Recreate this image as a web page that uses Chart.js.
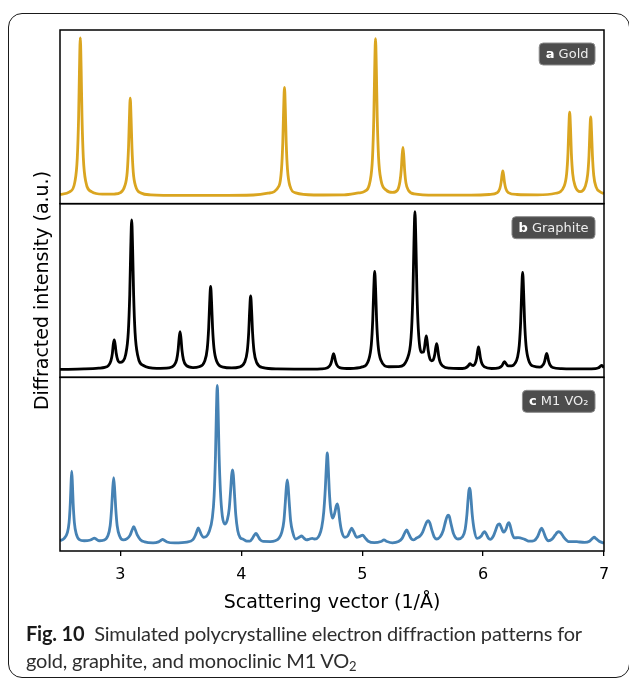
<!DOCTYPE html>
<html lang="en">

<head>
    <meta charset="UTF-8">
    <title>Electron diffraction patterns</title>
    <script src="https://cdn.jsdelivr.net/npm/chart.js"></script>
    <style>
        body {
            margin: 0;
            background: #fff;
            width: 629px;
            height: 678px;
            overflow: hidden;
            position: relative;
        }

        .frame {
            position: absolute;
            left: 8px;
            top: 13px;
            width: 620px;
            height: 663px;
            border: 1.4px solid #1a1a1a;
            border-radius: 14px;
        }

        .chart-box {
            position: absolute;
            left: 0;
            top: 0;
            width: 629px;
            height: 678px;
        }

        .caption {
            position: absolute;
            left: 26px;
            top: 620px;
            font-family: Lato, "Open Sans", sans-serif;
            font-size: 20px;
            line-height: 27px;
            letter-spacing: -0.2px;
            color: #2e2e2e;
            white-space: nowrap;
        }

        .caption b {
            color: #1a1a1a;
        }

        .caption sub {
            font-size: 13px;
            vertical-align: -3px;
        }
    </style>
</head>

<body>
    <div class="frame"></div>
    <div class="chart-box">
        <canvas id="patternChart"></canvas>
    </div>
    <div class="caption"><b>Fig. 10</b>&nbsp; Simulated polycrystalline electron diffraction patterns for<br>gold, graphite, and monoclinic M1 VO<sub>2</sub></div>

    <script>
        // scattering vector (1/Å), intensity (a.u., normalised)
        const gold = [
            [2.5, 0.009], [2.58, 0.025], [2.623, 0.088], [2.643, 0.24], [2.654, 0.5], [2.661, 0.8], [2.668, 1.0],
            [2.675, 0.8], [2.682, 0.5], [2.693, 0.24], [2.713, 0.09], [2.76, 0.026], [2.85, 0.01], [2.95, 0.011],
            [3.0, 0.02], [3.036, 0.062], [3.056, 0.15], [3.067, 0.31], [3.074, 0.49], [3.081, 0.618], [3.088, 0.49],
            [3.095, 0.31], [3.106, 0.15], [3.126, 0.06], [3.17, 0.018], [3.25, 0.006], [3.5, 0.002], [3.8, 0.002],
            [4.1, 0.005], [4.22, 0.016], [4.312, 0.062], [4.332, 0.165], [4.343, 0.34], [4.35, 0.55], [4.357, 0.686],
            [4.364, 0.55], [4.371, 0.34], [4.382, 0.165], [4.402, 0.062], [4.45, 0.018], [4.6, 0.005], [4.85, 0.006],
            [4.97, 0.018], [5.02, 0.028], [5.065, 0.092], [5.085, 0.24], [5.096, 0.5], [5.103, 0.8], [5.11, 0.996],
            [5.117, 0.8], [5.124, 0.5], [5.135, 0.245], [5.155, 0.1], [5.2, 0.035], [5.25, 0.021], [5.292, 0.036],
            [5.312, 0.09], [5.323, 0.165], [5.33, 0.255], [5.337, 0.306], [5.344, 0.25], [5.351, 0.16], [5.362, 0.08],
            [5.382, 0.035], [5.43, 0.012], [5.6, 0.004], [5.9, 0.004], [6.05, 0.008], [6.118, 0.02], [6.138, 0.045],
            [6.149, 0.085], [6.156, 0.128], [6.163, 0.157], [6.17, 0.128], [6.177, 0.085], [6.188, 0.045], [6.208, 0.02],
            [6.28, 0.008], [6.45, 0.006], [6.6, 0.016], [6.671, 0.062], [6.691, 0.14], [6.702, 0.27], [6.709, 0.43],
            [6.716, 0.529], [6.723, 0.43], [6.73, 0.27], [6.741, 0.14], [6.761, 0.062], [6.803, 0.026], [6.845, 0.06],
            [6.865, 0.135], [6.876, 0.255], [6.883, 0.405], [6.89, 0.499], [6.897, 0.405], [6.904, 0.26], [6.915, 0.13],
            [6.935, 0.055], [6.97, 0.024], [7.0, 0.014]
        ];

        const graphite = [
            [2.5, 0.0], [2.7, 0.003], [2.82, 0.008], [2.87, 0.013], [2.9, 0.024], [2.921, 0.054], [2.933, 0.1],
            [2.941, 0.16], [2.949, 0.187], [2.957, 0.153], [2.965, 0.102], [2.977, 0.061], [2.995, 0.045], [3.02, 0.052],
            [3.043, 0.093], [3.065, 0.236], [3.077, 0.476], [3.085, 0.758], [3.093, 0.947], [3.101, 0.758], [3.109, 0.474],
            [3.121, 0.233], [3.143, 0.088], [3.19, 0.025], [3.3, 0.007], [3.4, 0.01], [3.443, 0.026], [3.465, 0.062],
            [3.477, 0.122], [3.485, 0.194], [3.493, 0.24], [3.501, 0.195], [3.509, 0.122], [3.521, 0.062], [3.543, 0.026],
            [3.6, 0.012], [3.65, 0.017], [3.696, 0.051], [3.718, 0.131], [3.73, 0.265], [3.738, 0.422], [3.746, 0.526],
            [3.754, 0.422], [3.762, 0.265], [3.774, 0.133], [3.796, 0.052], [3.85, 0.015], [3.92, 0.01], [3.98, 0.015],
            [4.027, 0.045], [4.049, 0.116], [4.061, 0.234], [4.069, 0.374], [4.077, 0.466], [4.085, 0.373], [4.093, 0.233],
            [4.105, 0.115], [4.127, 0.043], [4.18, 0.011], [4.3, 0.003], [4.5, 0.002], [4.66, 0.004], [4.713, 0.011],
            [4.735, 0.027], [4.747, 0.052], [4.755, 0.082], [4.763, 0.1], [4.771, 0.082], [4.779, 0.052], [4.791, 0.027],
            [4.813, 0.012], [4.9, 0.006], [5.0, 0.016], [5.053, 0.06], [5.075, 0.155], [5.087, 0.313], [5.095, 0.499],
            [5.103, 0.621], [5.111, 0.502], [5.119, 0.313], [5.131, 0.155], [5.153, 0.061], [5.22, 0.017], [5.3, 0.018],
            [5.386, 0.098], [5.408, 0.25], [5.42, 0.505], [5.428, 0.805], [5.436, 1.0], [5.444, 0.806], [5.452, 0.51],
            [5.464, 0.256], [5.49, 0.108], [5.506, 0.11], [5.515, 0.138], [5.522, 0.18], [5.53, 0.212], [5.538, 0.174],
            [5.546, 0.118], [5.56, 0.067], [5.573, 0.055], [5.588, 0.061], [5.6, 0.094], [5.608, 0.137], [5.616, 0.164],
            [5.624, 0.133], [5.632, 0.087], [5.644, 0.047], [5.666, 0.022], [5.72, 0.008], [5.8, 0.006], [5.85, 0.009],
            [5.875, 0.021], [5.891, 0.037], [5.905, 0.028], [5.92, 0.025], [5.934, 0.038], [5.946, 0.07], [5.954, 0.113],
            [5.962, 0.142], [5.97, 0.113], [5.978, 0.072], [5.99, 0.037], [6.012, 0.016], [6.07, 0.006], [6.13, 0.01],
            [6.155, 0.022], [6.169, 0.043], [6.177, 0.05], [6.188, 0.039], [6.205, 0.022], [6.235, 0.022], [6.265, 0.04],
            [6.285, 0.079], [6.299, 0.152], [6.311, 0.307], [6.319, 0.492], [6.327, 0.615], [6.335, 0.492], [6.343, 0.307],
            [6.355, 0.153], [6.377, 0.058], [6.42, 0.02], [6.47, 0.015], [6.498, 0.031], [6.51, 0.055], [6.518, 0.083],
            [6.526, 0.102], [6.534, 0.082], [6.542, 0.052], [6.554, 0.028], [6.576, 0.012], [6.65, 0.005], [6.85, 0.003],
            [6.93, 0.005], [6.955, 0.01], [6.98, 0.025], [7.0, 0.012]
        ];

        const vo2 = [
            [2.5, 0.015], [2.535, 0.03], [2.56, 0.065], [2.575, 0.13], [2.585, 0.25], [2.591, 0.37], [2.597, 0.455],
            [2.603, 0.37], [2.609, 0.25], [2.619, 0.13], [2.634, 0.06], [2.66, 0.022], [2.7, 0.015], [2.745, 0.018],
            [2.768, 0.026], [2.784, 0.032], [2.8, 0.025], [2.825, 0.015], [2.86, 0.018], [2.895, 0.045], [2.915, 0.11],
            [2.927, 0.22], [2.935, 0.33], [2.944, 0.415], [2.953, 0.33], [2.961, 0.22], [2.973, 0.11], [2.993, 0.045],
            [3.024, 0.02], [3.055, 0.028], [3.08, 0.05], [3.095, 0.08], [3.11, 0.104], [3.125, 0.08], [3.14, 0.05],
            [3.165, 0.022], [3.2, 0.008], [3.27, 0.002], [3.315, 0.008], [3.336, 0.018], [3.349, 0.024], [3.362, 0.018],
            [3.385, 0.007], [3.45, 0.001], [3.55, 0.006], [3.6, 0.022], [3.62, 0.05], [3.632, 0.075], [3.644, 0.097],
            [3.656, 0.078], [3.67, 0.052], [3.687, 0.037], [3.71, 0.042], [3.735, 0.075], [3.76, 0.16], [3.775, 0.3],
            [3.786, 0.55], [3.794, 0.84], [3.801, 0.999], [3.808, 0.84], [3.816, 0.56], [3.827, 0.33], [3.843, 0.17],
            [3.865, 0.121], [3.885, 0.15], [3.9, 0.22], [3.912, 0.34], [3.92, 0.43], [3.927, 0.463], [3.934, 0.43],
            [3.942, 0.33], [3.954, 0.18], [3.97, 0.08], [3.99, 0.035], [4.016, 0.025], [4.045, 0.012], [4.07, 0.012],
            [4.09, 0.028], [4.105, 0.048], [4.121, 0.062], [4.137, 0.045], [4.155, 0.022], [4.18, 0.011], [4.24, 0.01],
            [4.28, 0.015], [4.31, 0.03], [4.335, 0.07], [4.352, 0.14], [4.364, 0.26], [4.372, 0.35], [4.38, 0.401],
            [4.388, 0.35], [4.396, 0.26], [4.408, 0.14], [4.425, 0.07], [4.449, 0.026], [4.475, 0.035], [4.499, 0.045],
            [4.52, 0.03], [4.54, 0.02], [4.565, 0.026], [4.587, 0.03], [4.605, 0.026], [4.623, 0.028], [4.645, 0.05],
            [4.665, 0.1], [4.682, 0.2], [4.695, 0.35], [4.703, 0.48], [4.711, 0.571], [4.719, 0.48], [4.727, 0.34],
            [4.738, 0.22], [4.755, 0.158], [4.772, 0.19], [4.785, 0.235], [4.794, 0.249], [4.803, 0.22], [4.815, 0.14],
            [4.83, 0.075], [4.857, 0.037], [4.88, 0.045], [4.898, 0.075], [4.913, 0.094], [4.928, 0.075], [4.954, 0.037],
            [4.98, 0.043], [5.004, 0.051], [5.022, 0.035], [5.05, 0.012], [5.1, 0.003], [5.155, 0.01], [5.18, 0.02],
            [5.205, 0.01], [5.25, 0.002], [5.3, 0.01], [5.33, 0.03], [5.352, 0.065], [5.368, 0.083], [5.384, 0.06],
            [5.405, 0.028], [5.422, 0.02], [5.45, 0.032], [5.478, 0.045], [5.5, 0.07], [5.52, 0.11], [5.535, 0.135],
            [5.546, 0.142], [5.558, 0.13], [5.575, 0.085], [5.595, 0.04], [5.616, 0.026], [5.645, 0.04], [5.67, 0.08],
            [5.69, 0.14], [5.703, 0.17], [5.711, 0.177], [5.72, 0.17], [5.735, 0.12], [5.755, 0.06], [5.775, 0.032],
            [5.792, 0.026], [5.83, 0.04], [5.852, 0.09], [5.866, 0.18], [5.876, 0.28], [5.882, 0.33], [5.888, 0.348],
            [5.894, 0.33], [5.9, 0.28], [5.91, 0.18], [5.925, 0.09], [5.95, 0.03], [5.985, 0.045], [6.0, 0.065],
            [6.012, 0.072], [6.025, 0.06], [6.045, 0.03], [6.059, 0.024], [6.085, 0.045], [6.105, 0.085], [6.12, 0.115],
            [6.136, 0.121], [6.15, 0.1], [6.163, 0.075], [6.172, 0.069], [6.19, 0.09], [6.203, 0.12], [6.214, 0.13],
            [6.226, 0.105], [6.24, 0.06], [6.258, 0.033], [6.29, 0.035], [6.343, 0.024], [6.384, 0.012], [6.42, 0.015],
            [6.45, 0.04], [6.47, 0.078], [6.484, 0.094], [6.498, 0.075], [6.518, 0.035], [6.539, 0.015], [6.57, 0.025],
            [6.595, 0.05], [6.613, 0.068], [6.627, 0.072], [6.642, 0.065], [6.665, 0.04], [6.69, 0.018], [6.704, 0.01],
            [6.74, 0.01], [6.774, 0.01], [6.8, 0.007], [6.84, 0.005], [6.88, 0.012], [6.905, 0.03], [6.919, 0.037],
            [6.935, 0.028], [6.96, 0.012], [7.0, 0.0]
        ];

        const xTicks = [3, 4, 5, 6, 7];
        const panelLetters = ['a', 'b', 'c'];
        const panelNames = ['Gold', 'Graphite', 'M1 VO₂'];
        const panelColors = ['#DAA520', '#000000', '#4682B4'];
        const panelAxes = ['ya', 'yb', 'yc'];

        const toXY = arr => arr.map(p => ({ x: p[0], y: p[1] }));

        // frame around each panel + the little dark labels in the corner
        const panelFrames = {
            id: 'panelFrames',
            afterDatasetsDraw(chart) {
                const { ctx, chartArea } = chart;
                ctx.save();
                panelAxes.forEach((id, i) => {
                    const s = chart.scales[id];
                    ctx.lineWidth = 1.5;
                    ctx.strokeStyle = '#000';
                    ctx.strokeRect(chartArea.left, s.top, chartArea.right - chartArea.left, s.bottom - s.top);

                    ctx.font = 'bold 13px "DejaVu Sans"';
                    const wL = ctx.measureText(panelLetters[i]).width;
                    ctx.font = '13px "DejaVu Sans"';
                    const wN = ctx.measureText(' ' + panelNames[i]).width;
                    const w = wL + wN + 13;
                    const h = 22;
                    const bx = chartArea.right - 9 - w;
                    const by = s.top + 13;
                    ctx.beginPath();
                    ctx.roundRect(bx, by, w, h, 4);
                    ctx.fillStyle = '#4d4d4d';
                    ctx.fill();
                    ctx.lineWidth = 1;
                    ctx.strokeStyle = '#8c8c8c';
                    ctx.stroke();

                    ctx.textBaseline = 'middle';
                    ctx.fillStyle = '#ffffff';
                    ctx.font = 'bold 13px "DejaVu Sans"';
                    ctx.fillText(panelLetters[i], bx + 6.5, by + h / 2 + 0.5);
                    ctx.fillStyle = '#eeeeee';
                    ctx.font = '13px "DejaVu Sans"';
                    ctx.fillText(' ' + panelNames[i], bx + 6.5 + wL, by + h / 2 + 0.5);
                });
                ctx.restore();
            }
        };

        function panelScale(weight, withTitle) {
            return {
                type: 'linear',
                position: 'left',
                stack: 'panels',
                stackWeight: 1,
                weight: weight,
                min: -0.05,
                max: 1.05,
                grid: { display: false },
                border: { display: false },
                ticks: { display: false },
                title: {
                    display: withTitle,
                    text: 'Diffracted intensity (a.u.)',
                    color: '#000',
                    font: { family: '"DejaVu Sans"', size: 19 },
                    padding: { top: 32, bottom: 0 }
                },
                afterFit: function (scale) {
                    scale.width = 60;
                }
            };
        }

        const datasets = [gold, graphite, vo2].map((series, i) => ({
            data: toXY(series),
            xAxisID: 'x',
            yAxisID: panelAxes[i],
            borderColor: panelColors[i],
            borderWidth: 2.8,
            pointRadius: 0,
            cubicInterpolationMode: 'monotone',
            fill: false
        }));

        new Chart(document.getElementById('patternChart'), {
            type: 'line',
            data: { datasets: datasets },
            options: {
                responsive: true,
                maintainAspectRatio: false,
                animation: false,
                layout: { padding: { left: 0, top: 30, right: 25, bottom: 57 } },
                plugins: {
                    legend: { display: false },
                    tooltip: { enabled: false }
                },
                scales: {
                    x: {
                        type: 'linear',
                        position: 'bottom',
                        min: 2.5,
                        max: 7,
                        grid: {
                            display: true,
                            drawOnChartArea: false,
                            drawTicks: true,
                            tickLength: 5,
                            color: '#000',
                            lineWidth: 1.3
                        },
                        border: { display: false },
                        afterBuildTicks: function (scale) {
                            scale.ticks = xTicks.map(v => ({ value: v }));
                        },
                        ticks: {
                            color: '#000',
                            padding: 9,
                            maxRotation: 0,
                            font: { family: '"DejaVu Sans"', size: 16 },
                            callback: function (value) {
                                return value;
                            }
                        },
                        title: {
                            display: true,
                            text: 'Scattering vector (1/Å)',
                            color: '#000',
                            font: { family: '"DejaVu Sans"', size: 19 },
                            padding: { top: 0, bottom: 7 }
                        },
                        afterFit: function (scale) {
                            scale.height = 70;
                        }
                    },
                    ya: panelScale(3, false),
                    yb: panelScale(2, true),
                    yc: panelScale(1, false)
                }
            },
            plugins: [panelFrames]
        });
    </script>
</body>

</html>
